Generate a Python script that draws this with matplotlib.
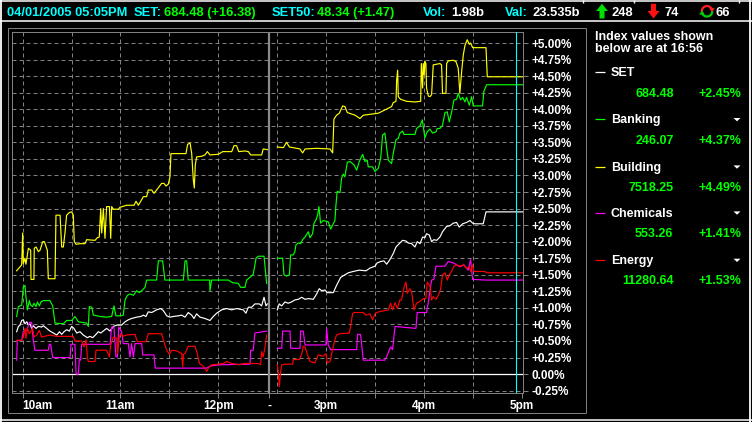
import matplotlib
matplotlib.use("Agg")
import matplotlib.pyplot as plt
from matplotlib.lines import Line2D
from matplotlib.patches import Polygon, Arc

nan = float("nan")

# ---------------- axis definitions ----------------
# x = trading minutes on a compressed axis: 10am = 0, lunch break squeezed, 2:30pm = 156, 5pm = 306
x_tick_pos = [0, 60, 120, 151, 186, 246, 306]
x_tick_labels = ["10am", "11am", "12pm", "-", "3pm", "4pm", "5pm"]
x_minor_pos = [30, 90, 216, 276]
x_grid_pos = [0, 30, 60, 90, 120, 156, 186, 216, 246, 276]
break_pos = 151
now_pos = 302
x_range = (-6.25, 306.65)

y_tick_pos = [-0.25, 0.0, 0.25, 0.5, 0.75, 1.0, 1.25, 1.5, 1.75, 2.0, 2.25,
              2.5, 2.75, 3.0, 3.25, 3.5, 3.75, 4.0, 4.25, 4.5, 4.75, 5.0]
y_tick_labels = ["-0.25%", "0.00%", "+0.25%", "+0.50%", "+0.75%", "+1.00%",
                 "+1.25%", "+1.50%", "+1.75%", "+2.00%", "+2.25%", "+2.50%",
                 "+2.75%", "+3.00%", "+3.25%", "+3.50%", "+3.75%", "+4.00%",
                 "+4.25%", "+4.50%", "+4.75%", "+5.00%"]
y_range = (-0.29, 5.162)

# ---------------- header values ----------------
hdr_datetime = "04/01/2005 05:05PM"
hdr_set = "684.48 (+16.38)"
hdr_set50 = "48.34 (+1.47)"
hdr_vol = "1.98b"
hdr_val = "23.535b"
hdr_up = "248"
hdr_down = "74"
hdr_unch = "66"

# ---------------- legend panel ----------------
sector_names = ["SET", "Banking", "Building", "Chemicals", "Energy"]
sector_colors = ["#FFFFFF", "#00FF00", "#FFFF00", "#FF00FF", "#FF0000"]
sector_index = ["684.48", "246.07", "7518.25", "553.26", "11280.64"]
sector_change = ["+2.45%", "+4.37%", "+4.49%", "+1.41%", "+1.53%"]
panel_time = "16:56"

# ---------------- series (% change vs time) ----------------
set_t = [-3.6, -2.5, -1.5, -0.5, 0.5, 1.5, 2.6, 3.6, 4.6, 5.6,
         6.6, 8.3, 9.7, 11.7, 12.8, 14.8, 16.8, 18.9, 21.0, 22.6,
         24.0, 25.4, 27.0, 28.7, 30.1, 31.5, 33.2, 35.2, 37.2, 39.7,
         41.3, 43.0, 45.0, 46.4, 47.9, 49.9, 51.5, 53.6, 55.6, 57.7,
         60.7, 62.8, 64.8, 66.8, 69.9, 72.4, 74.0, 75.6, 77.0, 79.1,
         82.1, 84.6, 86.2, 88.3, 90.3, 92.3, 95.4, 97.5, 99.5, 101.5,
         103.6, 105.0, 106.6, 108.7, 111.7, 114.8, 116.8, 118.9, 121.9, 125.0,
         128.1, 131.1, 135.2, 136.8, 138.3, 140.3, 142.3, 145.0, 146.4, 147.9,
         149.1, 149.9, 151.0, 156.0, 157.2, 158.7, 160.7, 162.7, 164.8, 166.8,
         168.9, 170.9, 173.0, 175.0, 178.1, 180.1, 181.7, 183.2, 185.2, 186.6,
         190.3, 192.3, 194.8, 197.4, 199.5, 202.5, 206.2, 210.3, 212.7, 215.8,
         217.2, 219.3, 221.3, 223.0, 225.0, 227.0, 228.7, 230.7, 232.7, 234.8,
         236.2, 238.3, 240.3, 241.7, 243.4, 245.0, 246.4, 247.4, 249.1, 250.5,
         251.9, 253.6, 255.6, 257.2, 259.7, 261.7, 263.8, 265.8, 267.4, 269.5,
         271.9, 274.0, 275.6, 277.0, 282.1, 283.8, 306.6]
set_v = [0.64, 0.72, 0.74, 0.81, 0.82, 0.76, 0.79, 0.74, 0.76, 0.69,
         0.73, 0.69, 0.72, 0.71, 0.73, 0.69, 0.65, 0.62, 0.59, 0.64,
         0.60, 0.64, 0.67, 0.65, 0.72, 0.69, 0.62, 0.64, 0.59, 0.55,
         0.57, 0.55, 0.60, 0.64, 0.62, 0.66, 0.69, 0.65, 0.72, 0.74,
         0.74, 0.79, 0.82, 0.84, 0.86, 0.87, 0.89, 0.87, 0.94, 0.93,
         0.97, 0.99, 0.96, 0.88, 0.86, 0.87, 0.88, 0.89, 0.86, 0.93,
         0.89, 0.84, 0.91, 0.86, 0.84, 0.81, 0.87, 0.92, 0.97, 0.99,
         0.97, 0.99, 0.97, 0.92, 1.01, 1.01, 1.06, 1.06, 1.03, 1.16,
         1.03, 1.06, nan, 0.97, 1.06, 1.03, 1.09, 1.07, 1.09, 1.12,
         1.13, 1.16, 1.13, 1.14, 1.13, 1.21, 1.29, 1.26, 1.27, 1.23,
         1.23, 1.34, 1.46, 1.50, 1.53, 1.55, 1.57, 1.56, 1.60, 1.63,
         1.68, 1.70, 1.71, 1.66, 1.73, 1.82, 1.92, 1.97, 2.02, 2.01,
         1.98, 1.97, 1.92, 2.00, 1.97, 2.07, 2.06, 2.12, 2.10, 2.00,
         2.03, 2.02, 2.07, 2.15, 2.23, 2.24, 2.28, 2.29, 2.22, 2.27,
         2.29, 2.32, 2.28, 2.27, 2.27, 2.45, 2.45]

bank_t = [-3.6, -2.5, -0.5, 0.5, 1.5, 2.1, 3.0, 4.2, 5.0, 6.2,
          7.0, 8.3, 9.1, 10.3, 11.3, 12.8, 16.8, 18.5, 19.9, 25.0,
          27.0, 30.1, 32.1, 34.2, 39.3, 40.3, 40.9, 42.4, 43.4, 45.8,
          47.4, 51.5, 54.6, 56.0, 57.2, 59.7, 61.7, 62.8, 64.2, 65.8,
          67.9, 69.9, 71.5, 73.0, 75.0, 76.0, 82.1, 83.2, 85.8, 87.2,
          98.5, 99.5, 100.5, 101.5, 114.6, 114.8, 115.8, 126.0, 128.7, 132.1,
          133.6, 136.2, 137.2, 139.7, 141.3, 143.0, 144.4, 147.9, 149.5, 151.0,
          156.0, 159.3, 160.1, 161.7, 163.4, 164.2, 165.8, 166.8, 167.4, 168.9,
          170.3, 171.5, 173.0, 175.0, 176.0, 177.6, 178.5, 179.7, 180.7, 181.5,
          182.5, 184.2, 187.2, 188.7, 189.9, 191.3, 191.9, 192.7, 194.4, 195.4,
          196.4, 197.4, 198.9, 200.5, 203.0, 204.6, 206.2, 208.3, 209.7, 211.1,
          211.7, 214.4, 215.8, 217.9, 219.3, 220.5, 221.9, 223.0, 224.0, 226.0,
          227.0, 228.7, 230.1, 231.1, 232.7, 233.6, 240.3, 241.3, 243.4, 244.8,
          245.4, 246.4, 247.8, 249.5, 251.1, 253.2, 254.0, 255.6, 257.2, 258.7,
          260.1, 261.3, 262.7, 264.2, 265.8, 266.8, 268.3, 269.5, 270.9, 271.9,
          273.6, 275.0, 276.0, 281.7, 282.5, 284.2, 306.6]
bank_v = [0.87, 1.02, 1.04, 1.31, 1.34, 1.17, 0.97, 1.11, 1.04, 1.02,
          1.07, 1.02, 1.09, 1.03, 1.09, 1.11, 1.11, 1.03, 0.77, 0.76,
          0.81, 0.81, 0.87, 0.79, 0.77, 0.72, 1.02, 1.01, 0.89, 0.88,
          0.87, 0.86, 0.87, 1.03, 0.88, 0.88, 0.89, 1.12, 1.19, 1.21,
          1.19, 1.26, 1.23, 1.26, 1.31, 1.42, 1.42, 1.71, 1.71, 1.42,
          1.42, 1.71, 1.71, 1.42, 1.42, 1.26, 1.42, 1.42, 1.38, 1.37,
          1.31, 1.31, 1.42, 1.47, 1.51, 1.75, 1.78, 1.78, 1.37, nan,
          1.75, 1.75, 1.50, 1.48, 1.50, 1.80, 1.80, 1.85, 1.95, 1.98,
          1.97, 2.03, 2.07, 2.15, 2.06, 2.12, 2.28, 2.33, 2.40, 2.53,
          2.28, 2.32, 2.30, 2.19, 2.25, 2.32, 2.55, 2.76, 2.74, 2.96,
          3.02, 2.98, 3.20, 3.21, 3.16, 3.08, 3.21, 3.32, 3.21, 3.23,
          3.13, 3.13, 3.06, 3.11, 3.26, 3.61, 3.64, 3.41, 3.23, 3.18,
          3.33, 3.54, 3.56, 3.64, 3.67, 3.62, 3.62, 3.71, 3.75, 3.84,
          3.74, 3.57, 3.66, 3.70, 3.64, 3.66, 3.71, 3.71, 3.76, 3.95,
          3.96, 3.81, 3.95, 4.14, 4.15, 4.24, 4.14, 4.18, 4.11, 4.18,
          4.06, 4.19, 4.05, 4.05, 4.27, 4.37, 4.37]

bld_t = [-3.6, -0.5, 0.1, 0.5, 1.5, 2.1, 3.6, 5.0, 5.2, 7.0,
         7.2, 8.3, 9.7, 10.7, 12.4, 13.4, 15.2, 15.8, 19.9, 20.5,
         23.0, 24.0, 25.0, 26.0, 27.0, 28.7, 30.1, 31.1, 31.7, 32.8,
         35.2, 38.3, 39.3, 44.4, 45.8, 47.0, 47.9, 48.5, 49.5, 50.5,
         51.5, 53.2, 54.0, 54.6, 55.6, 58.7, 59.7, 63.8, 68.3, 69.5,
         70.9, 72.4, 74.0, 76.0, 77.0, 79.1, 80.5, 82.1, 85.2, 86.6,
         87.9, 89.3, 90.3, 90.9, 100.1, 101.1, 102.6, 103.6, 104.6, 105.2,
         105.8, 106.6, 109.7, 111.7, 113.2, 114.8, 119.9, 122.6, 128.1, 129.5,
         131.1, 132.4, 136.2, 138.3, 139.7, 146.4, 147.4, 149.9, 151.0, 156.0,
         159.7, 161.7, 163.4, 169.9, 171.5, 173.0, 180.1, 188.3, 189.9, 190.7,
         192.3, 194.0, 196.0, 197.4, 198.9, 203.6, 206.6, 208.7, 217.9, 221.9,
         226.0, 227.0, 228.7, 229.1, 229.7, 230.1, 231.5, 235.2, 240.3, 243.8,
         244.2, 245.0, 245.4, 246.0, 246.4, 247.0, 247.4, 248.5, 249.5, 250.5,
         251.5, 255.6, 256.6, 257.2, 259.3, 259.7, 260.7, 263.8, 265.4, 266.8,
         267.8, 268.9, 269.9, 270.9, 272.3, 273.6, 274.4, 275.6, 283.8, 284.6,
         306.6]
bld_v = [1.56, 1.65, 2.13, 1.67, 1.75, 1.66, 1.90, 1.87, 1.43, 1.43,
         1.90, 1.92, 1.85, 1.87, 2.00, 2.00, 1.87, 1.44, 1.44, 2.40,
         2.40, 1.92, 1.92, 2.13, 2.40, 2.44, 2.45, 2.40, 2.00, 1.96,
         1.97, 1.97, 2.03, 2.02, 2.06, 2.07, 2.50, 2.13, 2.50, 2.05,
         2.53, 2.53, 2.05, 2.53, 2.49, 2.49, 2.52, 2.55, 2.55, 2.61,
         2.55, 2.61, 2.68, 2.68, 2.78, 2.78, 2.73, 2.78, 2.88, 2.88,
         2.84, 2.87, 2.98, 3.33, 3.33, 3.47, 3.49, 3.33, 2.93, 2.81,
         3.16, 3.28, 3.29, 3.31, 3.36, 3.31, 3.32, 3.36, 3.36, 3.45,
         3.45, 3.36, 3.37, 3.36, 3.31, 3.31, 3.40, 3.39, nan, 3.43,
         3.42, 3.50, 3.43, 3.40, 3.34, 3.40, 3.41, 3.40, 3.34, 3.85,
         3.91, 3.94, 4.05, 4.04, 3.95, 3.91, 3.86, 3.91, 3.94, 3.99,
         4.04, 4.10, 4.12, 4.44, 4.59, 4.19, 4.15, 4.12, 4.11, 4.12,
         4.69, 4.32, 4.69, 4.52, 4.72, 4.69, 4.32, 4.20, 4.19, 4.22,
         4.67, 4.69, 4.67, 4.24, 4.24, 4.69, 4.73, 4.74, 4.72, 4.62,
         4.24, 4.57, 4.82, 4.96, 5.05, 4.98, 5.00, 4.93, 4.93, 4.49,
         4.49]

chem_t = [-3.6, -3.2, -0.5, 0.5, 2.6, 4.2, 5.6, 6.6, 7.6, 15.8,
          16.4, 17.2, 18.5, 29.1, 29.7, 32.1, 32.8, 34.2, 34.8, 35.6,
          36.2, 53.6, 54.6, 56.0, 57.2, 58.1, 58.9, 60.7, 61.7, 64.8,
          65.8, 66.8, 67.9, 68.9, 73.0, 73.6, 80.5, 81.3, 112.8, 114.8,
          119.9, 139.3, 139.7, 141.3, 142.3, 149.5, 151.0, 156.0, 158.7, 159.3,
          163.8, 164.2, 169.9, 170.3, 171.9, 173.0, 185.8, 186.2, 187.2, 188.7,
          204.6, 205.2, 207.0, 208.7, 221.9, 223.4, 225.4, 226.6, 228.1, 240.9,
          241.7, 247.4, 248.5, 250.5, 251.9, 253.2, 258.7, 260.7, 263.8, 265.8,
          267.8, 270.3, 272.9, 274.4, 275.6, 283.8, 306.6]
chem_v = [0.21, 0.51, 0.51, 0.64, 0.66, 0.78, 0.78, 0.51, 0.36, 0.36,
          0.45, 0.45, 0.25, 0.25, 0.45, 0.45, 0.00, 0.00, 0.22, 0.21,
          0.45, 0.45, 0.71, 0.71, 0.26, 0.26, 0.71, 0.64, 0.46, 0.46,
          0.26, 0.46, 0.26, 0.46, 0.46, 0.29, 0.29, 0.09, 0.09, 0.12,
          0.14, 0.15, 0.36, 0.36, 0.62, 0.65, nan, 0.39, 0.39, 0.65,
          0.65, 0.39, 0.39, 0.65, 0.65, 0.44, 0.44, 0.69, 0.44, 0.37,
          0.37, 0.60, 0.60, 0.21, 0.21, 0.29, 0.41, 0.37, 0.72, 0.69,
          0.93, 0.93, 1.09, 1.42, 1.43, 1.63, 1.63, 1.70, 1.68, 1.65,
          1.62, 1.65, 1.57, 1.73, 1.43, 1.42, 1.42]

nrg_t = [-3.6, -0.5, 0.5, 1.5, 2.1, 3.0, 4.2, 5.0, 6.2, 7.0,
         8.7, 10.3, 11.7, 16.8, 21.0, 31.1, 32.1, 36.2, 37.7, 38.9,
         39.7, 40.3, 44.4, 45.0, 51.5, 53.2, 54.0, 55.6, 57.7, 58.1,
         59.3, 60.1, 61.3, 63.8, 68.9, 70.3, 75.6, 77.0, 85.2, 86.6,
         88.3, 89.9, 91.3, 94.4, 97.5, 98.1, 98.5, 99.5, 101.5, 105.6,
         107.0, 108.3, 110.7, 112.8, 113.8, 115.8, 123.0, 125.0, 128.1, 133.2,
         135.2, 144.4, 145.8, 146.4, 147.4, 148.5, 149.5, 151.0, 156.0, 156.6,
         157.2, 158.1, 158.7, 160.7, 165.4, 165.8, 169.5, 170.9, 171.9, 173.0,
         174.4, 176.0, 179.1, 181.1, 184.2, 185.8, 186.6, 188.3, 189.3, 191.3,
         192.3, 194.4, 200.1, 200.9, 202.1, 203.0, 208.7, 210.3, 212.7, 214.4,
         215.8, 217.9, 224.0, 225.4, 226.6, 228.1, 229.5, 231.1, 232.1, 233.6,
         234.8, 235.6, 237.2, 238.3, 239.7, 241.3, 242.9, 245.4, 247.0, 247.8,
         249.5, 250.5, 251.5, 253.2, 254.6, 256.0, 257.2, 258.7, 260.1, 261.3,
         262.7, 264.2, 265.8, 267.8, 269.9, 271.9, 273.6, 274.4, 275.6, 276.4,
         283.1, 284.2, 306.6]
nrg_v = [0.51, 0.51, 0.56, 0.69, 0.54, 0.69, 0.61, 0.64, 0.69, 0.56,
         0.59, 0.66, 0.56, 0.59, 0.57, 0.57, 0.50, 0.50, 0.41, 0.52,
         0.26, 0.19, 0.19, 0.36, 0.36, 0.26, 0.44, 0.56, 0.54, 0.31,
         0.56, 0.61, 0.57, 0.59, 0.60, 0.49, 0.49, 0.61, 0.61, 0.49,
         0.36, 0.30, 0.36, 0.35, 0.31, 0.11, 0.30, 0.31, 0.42, 0.42,
         0.31, 0.16, 0.12, 0.04, 0.09, 0.14, 0.16, 0.19, 0.16, 0.14,
         0.16, 0.16, 0.14, 0.34, 0.26, 0.41, 0.59, nan, 0.14, 0.04,
         -0.19, 0.04, 0.14, 0.15, 0.15, 0.22, 0.22, 0.30, 0.42, 0.41,
         0.30, 0.19, 0.17, 0.29, 0.27, 0.31, 0.17, 0.19, 0.31, 0.52,
         0.59, 0.61, 0.62, 0.72, 0.91, 0.93, 0.93, 0.89, 0.91, 0.82,
         0.91, 0.94, 0.97, 1.07, 0.97, 1.08, 0.99, 1.12, 1.12, 1.31,
         1.39, 1.22, 1.29, 1.24, 0.97, 1.07, 1.09, 1.14, 1.14, 1.39,
         1.33, 1.12, 1.17, 1.13, 1.19, 1.28, 1.50, 1.53, 1.42, 1.50,
         1.55, 1.63, 1.65, 1.63, 1.65, 1.60, 1.62, 1.55, 1.65, 1.55,
         1.55, 1.53, 1.53]

series_t = [set_t, bank_t, bld_t, chem_t, nrg_t]
series_v = [set_v, bank_v, bld_v, chem_v, nrg_v]

# ---------------- figure ----------------
W, H = 752, 422
plt.rcParams['font.family'] = ['Liberation Sans', 'DejaVu Sans']
plt.rcParams['font.weight'] = 'bold'
fig = plt.figure(figsize=(W / 100, H / 100), dpi=100, facecolor='black')

GRAY = '#808080'
CYAN = '#00FFFF'
GREEN = '#00FF00'
PX = 0.72  # one pixel in points


def fx(x):
    return x / W


def fy(y):
    return 1 - y / H


def seg(x0, y0, x1, y1, color, lw=PX):
    fig.add_artist(Line2D([fx(x0), fx(x1)], [fy(y0), fy(y1)], transform=fig.transFigure,
                          color=color, lw=lw, solid_capstyle='butt'))


def poly(pts, color):
    fig.add_artist(Polygon([(fx(x), fy(y)) for x, y in pts], closed=True,
                           transform=fig.transFigure, facecolor=color, edgecolor='none'))


def label(x, y, s, color, size, ha='left'):
    fig.text(fx(x), fy(y), s, color=color, fontsize=size, fontweight='bold',
             ha=ha, va='baseline')


# window borders (white)
seg(0, 0.8, W, 0.8, 'white', 1.1)
seg(0, 21.4, W, 21.4, 'white', 1.1)
seg(1.5, 0, 1.5, H, 'white', 1.3)
seg(750.0, 0, 750.0, H, 'white', 1.3)
seg(0, 420.2, W, 420.2, 'white', 1.1)
for xs in (583, 634, 739):
    seg(xs, 0, xs, 2.5, 'white', 1.0)

# chart outer gray frame
seg(7.5, 28, 586, 28, GRAY)
seg(7.5, 412.7, 586, 412.7, GRAY)
seg(7.5, 28, 7.5, 412.7, GRAY)
seg(586, 28, 586, 412.7, GRAY)

# header
HS = 9.3
HB = 16.3
label(6.7, HB, hdr_datetime, CYAN, HS)
label(133.3, HB, "SET:", CYAN, HS)
label(164, HB, hdr_set, GREEN, HS)
label(271.7, HB, "SET50:", CYAN, HS)
label(316.7, HB, hdr_set50, GREEN, HS)
label(422.7, HB, "Vol:", CYAN, HS)
label(451, HB, hdr_vol, 'white', HS)
label(505.3, HB, "Val:", CYAN, HS)
label(532.7, HB, hdr_val, 'white', HS)
label(612, HB, hdr_up, 'white', HS)
label(664.3, HB, hdr_down, 'white', HS)
label(716, HB, hdr_unch, 'white', HS)
# up / down arrows
poly([(596, 11), (602, 3.8), (608, 11), (604.5, 11), (604.5, 18.5), (599.5, 18.5), (599.5, 11)], '#00E000')
poly([(647.5, 11), (653.5, 18.5), (659.5, 11), (656, 11), (656, 3.8), (651, 3.8), (651, 11)], '#FF1010')
# unchanged (cycle) icon
fig.add_artist(Arc((fx(707), fy(11.3)), 10.5 / W, 10.5 / H, theta1=25, theta2=190,
                   transform=fig.transFigure, color='#FF2020', lw=1.6))
fig.add_artist(Arc((fx(707), fy(11.3)), 10.5 / W, 10.5 / H, theta1=205, theta2=370,
                   transform=fig.transFigure, color='#00D000', lw=1.6))
poly([(709.2, 8.2), (714.8, 8.2), (712, 12.2)], '#FF2020')
poly([(699.2, 14.6), (704.8, 14.6), (702, 10.4)], '#00D000')

# legend panel
PS = 9.0
label(595, 40, "Index values shown", 'white', PS)
label(595, 52.3, "below are at " + panel_time, 'white', PS)
name_base = [75.7, 123.3, 170.7, 216.7, 264.0]
value_base = [97.3, 144.0, 190.7, 237.3, 284.0]
for i in range(len(sector_names)):
    yb = name_base[i]
    seg(595, yb - 4.0, 605, yb - 4.0, sector_colors[i], 0.9)
    label(610.7, yb, sector_names[i], 'white', PS)
    if i > 0:
        poly([(733.5, yb - 5.3), (740.5, yb - 5.3), (737, yb - 2.0)], 'white')
    label(673.5, value_base[i], sector_index[i], GREEN, PS, ha='right')
    label(741.5, value_base[i], sector_change[i], GREEN, PS, ha='right')

# plot area
L, R, T, B = 12.3, 523.3, 32.3, 393.3
ax = fig.add_axes([L / W, 1 - B / H, (R - L) / W, (B - T) / H])
ax.set_facecolor('black')
ax.set_xlim(*x_range)
ax.set_ylim(*y_range)
for sp in ax.spines.values():
    sp.set_color(GRAY)
    sp.set_linewidth(PX)

for yv in y_tick_pos:
    if yv != 0:
        ax.axhline(yv, color=GRAY, lw=PX, ls=(0, (4, 3)), zorder=1)
for xv in x_grid_pos:
    ax.axvline(xv, color=GRAY, lw=PX, ls=(0, (4, 3)), zorder=1)
ax.axhline(0, color='white', lw=0.9, zorder=2)
ax.axvline(break_pos, color='#8a8a8a', lw=1.6, zorder=2)

for i in range(len(series_t)):
    ax.plot(series_t[i], series_v[i], color=sector_colors[i], lw=0.85, zorder=3 + i)

ax.axvline(now_pos, color=CYAN, lw=0.8, zorder=10)

ax.set_xticks(x_tick_pos)
ax.set_xticklabels(x_tick_labels)
ax.set_xticks(x_minor_pos, minor=True)
ax.yaxis.tick_right()
ax.set_yticks(y_tick_pos)
ax.set_yticklabels(y_tick_labels)
ax.tick_params(axis='both', which='both', color=GRAY, labelcolor='white',
               length=3.6, width=PX, labelsize=8.5)
ax.tick_params(axis='x', pad=1.2)
ax.tick_params(axis='y', pad=2.2)
for lbl in ax.get_xticklabels() + ax.get_yticklabels():
    lbl.set_fontweight('bold')
ax.get_xticklabels()[0].set_horizontalalignment('left')

fig.savefig('out.png', dpi=100, facecolor='black')
